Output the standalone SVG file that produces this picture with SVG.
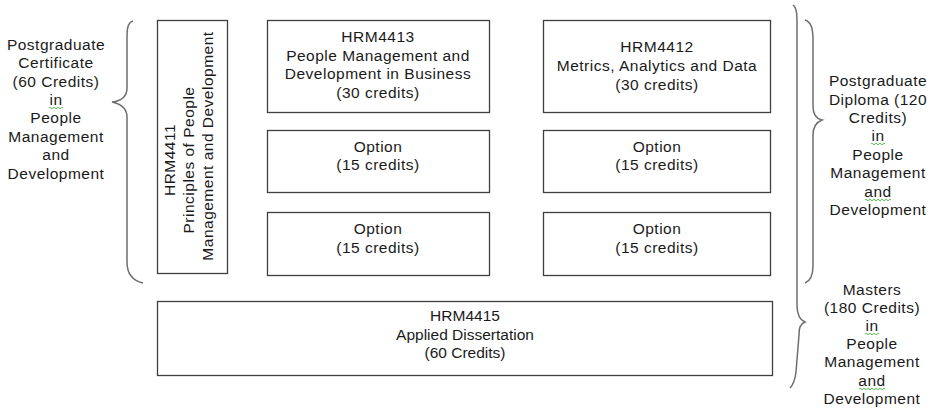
<svg xmlns="http://www.w3.org/2000/svg" width="940" height="408" viewBox="0 0 940 408">
<style>
  .box { fill: #ffffff; stroke: #3f3f3f; stroke-width: 1.3; }
  .brace { fill: none; stroke: #6e6e6e; stroke-width: 1.5; }
  .t { font-family: "Liberation Sans", Arial, sans-serif; font-size: 15.5px; fill: #1a1a1a; text-anchor: middle; letter-spacing: 0.5px; }
  .t2 { font-family: "Liberation Sans", Arial, sans-serif; font-size: 15.5px; fill: #1a1a1a; text-anchor: middle; }
  .spell { fill: none; stroke: #5cb85c; stroke-width: 1; }
</style>
<rect width="940" height="408" fill="#ffffff"/>

<g id="connectors">
  <path class="brace" d="M133,21 C127,23 127,30 127,40 L127,88 C127,97 121,101 112,102 C121,104 127,108 127,117 L127,262 C127,275 134,281 143,283"/>
  <path class="brace" d="M793,5 C797,8 797,15 797,25 L797,305 C797,315 800,320 805,322 C800,324 799,328 799,335 L796,372 C795,380 793,385 790,388"/>
  <path class="brace" d="M805,20 C811,22 813,28 813,40 L813,106 C813,115 817,119 822,120 C817,122 813,126 813,135 L813,266 C813,276 810,281 805,283"/>
</g>

<g id="label-pgcert">
  <text class="t" x="56" y="50">Postgraduate</text>
  <text class="t" x="56" y="68">Certificate</text>
  <text class="t" x="56" y="87">(60 Credits)</text>
  <text class="t" x="56" y="105">in</text>
  <text class="t" x="56" y="123">People</text>
  <text class="t" x="56" y="142">Management</text>
  <text class="t" x="56" y="160">and</text>
  <text class="t" x="56" y="179">Development</text>
  <path class="spell" d="M49,108 q1,-1.5 2,0 t2,0 t2,0 t2,0 t2,0 t2,0 t2,0"/>
</g>

<g id="label-pgdip">
  <text class="t" x="878" y="86">Postgraduate</text>
  <text class="t" x="878" y="105">Diploma (120</text>
  <text class="t" x="878" y="123">Credits)</text>
  <text class="t" x="878" y="141">in</text>
  <text class="t" x="878" y="160">People</text>
  <text class="t" x="878" y="178">Management</text>
  <text class="t" x="878" y="197">and</text>
  <text class="t" x="878" y="215">Development</text>
  <path class="spell" d="M871,144 q1,-1.5 2,0 t2,0 t2,0 t2,0 t2,0 t2,0 t2,0"/>
  <path class="spell" d="M865,200 q1,-1.5 2,0 t2,0 t2,0 t2,0 t2,0 t2,0 t2,0 t2,0 t2,0 t2,0 t2,0 t2,0 t2,0"/>
</g>

<g id="label-masters">
  <text class="t" x="872" y="295">Masters</text>
  <text class="t" x="872" y="313">(180 Credits)</text>
  <text class="t" x="872" y="331">in</text>
  <text class="t" x="872" y="349">People</text>
  <text class="t" x="872" y="367">Management</text>
  <text class="t" x="872" y="386">and</text>
  <text class="t" x="872" y="404">Development</text>
  <path class="spell" d="M865,334 q1,-1.5 2,0 t2,0 t2,0 t2,0 t2,0 t2,0 t2,0"/>
  <path class="spell" d="M859,389 q1,-1.5 2,0 t2,0 t2,0 t2,0 t2,0 t2,0 t2,0 t2,0 t2,0 t2,0 t2,0 t2,0 t2,0"/>
</g>

<g id="hrm4411">
  <rect class="box" x="157.5" y="20.5" width="70" height="253"/>
  <g transform="translate(192,0) rotate(-90)">
    <text class="t" x="-160" y="-17">HRM4411</text>
    <text class="t" x="-160" y="2">Principles of People</text>
    <text class="t" x="-146" y="21">Management and Development</text>
  </g>
</g>

<g id="hrm4413">
  <rect class="box" x="267.5" y="20.5" width="222" height="92"/>
  <text class="t" x="378" y="42">HRM4413</text>
  <text class="t" x="378" y="61">People Management and</text>
  <text class="t" x="378" y="79">Development in Business</text>
  <text class="t" x="378" y="98">(30 credits)</text>
</g>

<g id="hrm4412">
  <rect class="box" x="543.5" y="20.5" width="227" height="92"/>
  <text class="t" x="657" y="52">HRM4412</text>
  <text class="t" x="657" y="71">Metrics, Analytics and Data</text>
  <text class="t" x="657" y="90">(30 credits)</text>
</g>

<g id="option-1">
  <rect class="box" x="267.5" y="130.5" width="222" height="62"/>
  <text class="t" x="378" y="152">Option</text>
  <text class="t" x="378" y="170">(15 credits)</text>
</g>

<g id="option-2">
  <rect class="box" x="543.5" y="130.5" width="227" height="62"/>
  <text class="t" x="657" y="152">Option</text>
  <text class="t" x="657" y="170">(15 credits)</text>
</g>

<g id="option-3">
  <rect class="box" x="267.5" y="212.5" width="222" height="63"/>
  <text class="t" x="378" y="234">Option</text>
  <text class="t" x="378" y="253">(15 credits)</text>
</g>

<g id="option-4">
  <rect class="box" x="543.5" y="212.5" width="227" height="63"/>
  <text class="t" x="657" y="234">Option</text>
  <text class="t" x="657" y="253">(15 credits)</text>
</g>

<g id="hrm4415">
  <rect class="box" x="157.5" y="301.5" width="615" height="74"/>
  <text class="t2" x="465" y="321">HRM4415</text>
  <text class="t2" x="465" y="340">Applied Dissertation</text>
  <text class="t2" x="465" y="358">(60 Credits)</text>
</g>
</svg>
